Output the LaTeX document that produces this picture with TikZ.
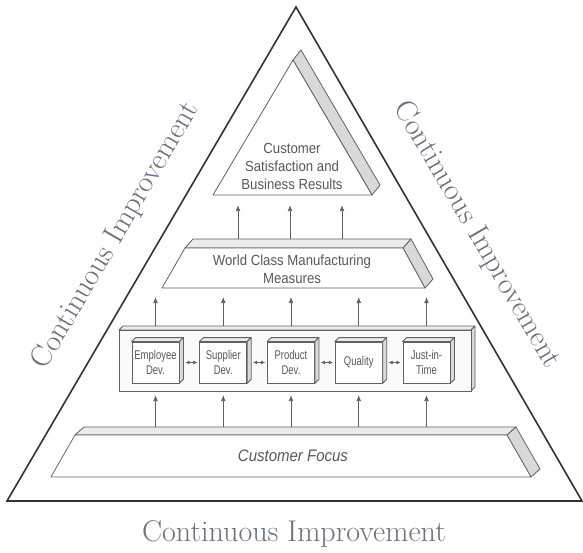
\documentclass[tikz,border=0pt]{standalone}
\usepackage{fontspec}
\newfontfamily\condsans[FakeStretch=0.9]{Liberation Sans}
\newfontfamily\tightsans[FakeStretch=0.75]{Liberation Sans}
\usepackage{tikz}
\usetikzlibrary{arrows.meta, calc}

\definecolor{framegray}{gray}{0.2}
\definecolor{linegray}{gray}{0.38}
\definecolor{textgray}{gray}{0.35}
\definecolor{shadegray}{gray}{0.85}
\definecolor{lidgray}{gray}{0.92}
\definecolor{cigray}{HTML}{6E6E7C}

\tikzset{
  frame/.style={draw=framegray, line width=1.2pt, line join=miter},
  face/.style={draw=linegray, line width=0.6pt, fill=white, line join=round},
  side/.style={draw=linegray, line width=0.6pt, fill=shadegray, line join=round},
  lid/.style={draw=linegray, line width=0.6pt, fill=lidgray, line join=round},
  blocktext/.style={text=textgray, font=\condsans\fontsize{11}{13.5}\selectfont, align=center},
  pillar/.style={draw=linegray, line width=0.6pt, fill=white, minimum width=35.25pt,
    minimum height=30.75pt, inner sep=0pt, text=textgray, align=center,
    font=\tightsans\fontsize{9.5}{11.5}\selectfont},
  uparrow/.style={draw=linegray, line width=0.5pt, -{Latex[length=4.5pt, width=3.5pt]}},
  twoway/.style={draw=linegray, line width=0.5pt,
    {Latex[length=3pt, width=3pt]}-{Latex[length=3pt, width=3pt]}},
  ci/.style={text=cigray, font=\fontsize{22.5}{26}\selectfont},
}

\begin{document}
\begin{tikzpicture}[x=0.75pt, y=-0.75pt]
\useasboundingbox (0,0) rectangle (583,553);

% outer triangle and its three labels
\draw[frame] (296,7) -- (582,501) -- (7,501) -- cycle;
\node[ci, rotate=59.7] (cileft) at (116,236) {Continuous Improvement};
\node[ci, rotate=-59.7] (ciright) at (477,235) {Continuous Improvement};
\node[ci] (cibottom) at (294,534) {Continuous Improvement};

% top block
\filldraw[side] (293,60) -- (301,50) -- (380,185) -- (372,195) -- cycle;
\filldraw[face] (293,60) -- (372,195) -- (213,195) -- cycle;
\node[blocktext] (csr) at (292,166) {Customer\\Satisfaction and\\Business Results};

% world class manufacturing measures
\filldraw[lid] (185,248) -- (193,239) -- (411,239) -- (403,248) -- cycle;
\filldraw[side] (403,248) -- (411,239) -- (433,279) -- (425,288) -- cycle;
\filldraw[face] (185,248) -- (403,248) -- (425,288) -- (162,288) -- cycle;
\node[blocktext] (wcm) at (292,269) {World Class Manufacturing\\Measures};

% middle box
\filldraw[lid] (119,330) -- (123,326) -- (475,326) -- (471,330) -- cycle;
\filldraw[side] (471,330) -- (475,326) -- (475,387) -- (471,391) -- cycle;
\filldraw[face, fill=gray!4] (119,330) rectangle (471,391);

\foreach \name/\txt [count=\i from 0] in
    {emp/{Employee\\Dev.}, sup/{Supplier\\Dev.}, prod/{Product\\Dev.}, qual/{Quality}, jit/{Just-in-\\Time}} {
  \node[pillar] (\name) at ({155.5+67.75*\i},362.5) {\txt};
  \filldraw[lid] (\name.north west) -- ++(4,-4) -- ($(\name.north east)+(4,-4)$) -- (\name.north east) -- cycle;
  \filldraw[side] (\name.north east) -- ++(4,-4) -- ($(\name.south east)+(4,-4)$) -- (\name.south east) -- cycle;
}
\draw[twoway] ([xshift=4.5pt]emp.east) -- ([xshift=-1.5pt]sup.west);
\draw[twoway] ([xshift=4.5pt]sup.east) -- ([xshift=-1.5pt]prod.west);
\draw[twoway] ([xshift=4.5pt]prod.east) -- ([xshift=-1.5pt]qual.west);
\draw[twoway] ([xshift=4.5pt]qual.east) -- ([xshift=-1.5pt]jit.west);

% customer focus
\filldraw[lid] (75,435) -- (84,427) -- (516,427) -- (507,435) -- cycle;
\filldraw[side] (507,435) -- (516,427) -- (540,469) -- (531,477) -- cycle;
\filldraw[face] (75,435) -- (507,435) -- (531,477) -- (51,477) -- cycle;
\node[blocktext, font=\condsans\itshape\fontsize{12.5}{15}\selectfont] (cf) at (293,456) {Customer Focus};

% arrows
\coordinate (cftop) at (292,427);
\coordinate (boxbot) at (292,395);
\coordinate (boxtop) at (292,326);
\coordinate (wcmbot) at (292,297);
\coordinate (wcmtop) at (290,239);
\coordinate (csrbot) at (290,205);
\foreach \name in {emp,sup,prod,qual,jit} {
  \draw[uparrow] (\name |- cftop) -- (\name |- boxbot);
  \draw[uparrow] (\name |- boxtop) -- (\name |- wcmbot);
}
\foreach \dx in {-52,0,52}
  \draw[uparrow] ([xshift=\dx*0.75pt]wcmtop) -- ([xshift=\dx*0.75pt]csrbot);
\end{tikzpicture}
\end{document}
